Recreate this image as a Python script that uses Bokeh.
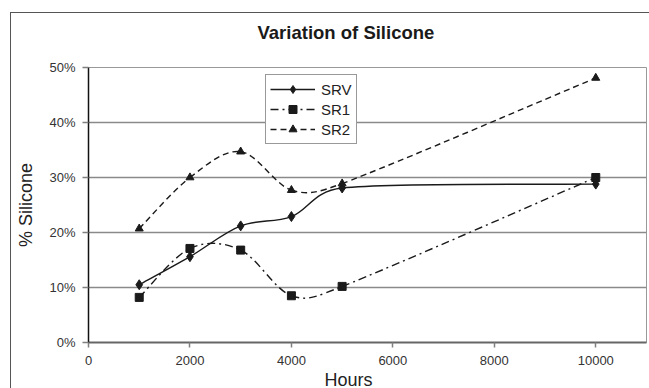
import numpy as np
from bokeh.plotting import figure
from bokeh.models import Legend, LegendItem, Title, FixedTicker, ColumnDataSource
from bokeh.embed import file_html
from bokeh.resources import INLINE

# ---- data ----
hours = [1000, 2000, 3000, 4000, 5000, 10000]
srv = [10.5, 15.6, 21.2, 22.9, 28.1, 28.8]
sr1 = [8.2, 17.1, 16.8, 8.5, 10.2, 30.0]
sr2 = [20.7, 30.0, 34.7, 27.7, 28.9, 48.1]
series_names = ["SRV", "SR1", "SR2"]
y_ticks = [0, 10, 20, 30, 40, 50]
y_tick_labels = ["0%", "10%", "20%", "30%", "40%", "50%"]
x_ticks = [0, 2000, 4000, 6000, 8000, 10000]

FONT = "Liberation Sans"
INK = "#1a1a1a"
X_RANGE = (0, 11000)
Y_RANGE = (0, 50)
W, H = 639, 376
ML, MR, MT, MB = 77, 4, 54, 45
PX_X = (W - ML - MR) / (X_RANGE[1] - X_RANGE[0])
PX_Y = (H - MT - MB) / (Y_RANGE[1] - Y_RANGE[0])


def bezier_source(xs, ys):
    """Excel-like smoothed segments: Catmull-Rom control points, limited to half a segment."""
    xs = np.asarray(xs, float)
    ys = np.asarray(ys, float)
    n = len(xs)
    d = dict(x0=[], y0=[], x1=[], y1=[], cx0=[], cy0=[], cx1=[], cy1=[])

    def limited(tx, ty, seg_x, seg_y):
        tl = np.hypot(tx * PX_X, ty * PX_Y)
        sl = np.hypot(seg_x * PX_X, seg_y * PX_Y) / 2
        if tl > sl and tl > 0:
            f = sl / tl
            return tx * f, ty * f
        return tx, ty

    for i in range(n - 1):
        i0 = max(i - 1, 0)
        i3 = min(i + 2, n - 1)
        sx, sy = xs[i + 1] - xs[i], ys[i + 1] - ys[i]
        t1x, t1y = limited((xs[i + 1] - xs[i0]) / 6, (ys[i + 1] - ys[i0]) / 6, sx, sy)
        t2x, t2y = limited((xs[i3] - xs[i]) / 6, (ys[i3] - ys[i]) / 6, sx, sy)
        d["x0"].append(xs[i]); d["y0"].append(ys[i])
        d["x1"].append(xs[i + 1]); d["y1"].append(ys[i + 1])
        d["cx0"].append(xs[i] + t1x); d["cy0"].append(ys[i] + t1y)
        d["cx1"].append(xs[i + 1] - t2x); d["cy1"].append(ys[i + 1] - t2y)
    return ColumnDataSource(d)


p = figure(width=W, height=H, x_range=X_RANGE, y_range=Y_RANGE,
           output_backend="svg", toolbar_location=None,
           min_border_left=ML, min_border_right=MR, min_border_top=MT, min_border_bottom=MB)
p.margin = (12, 0, 0, 10)
p.styles = {"border-left": "1.5px solid #555", "border-top": "1.5px solid #555"}

p.background_fill_color = "white"
p.border_fill_color = "white"
p.outline_line_color = "#999999"
p.outline_line_width = 1

# title (outermost in the top panel)
p.title.text = "Variation of Silicone"
p.title.align = "left"
p.title.vertical_align = "top"
p.title.offset = 169
p.title.standoff = 14
p.title.text_font = FONT
p.title.text_font_size = "18.5px"
p.title.text_font_style = "bold"
p.title.text_color = "#1a1a1a"
# thin spacer between title and frame
p.add_layout(Title(text=" ", text_font_size="2px", standoff=12), "above")

# grid
p.xgrid.visible = False
p.ygrid.ticker = FixedTicker(ticks=y_ticks)
p.ygrid.grid_line_color = "#8a8a8a"
p.ygrid.grid_line_width = 1.5

# axes
p.yaxis.ticker = FixedTicker(ticks=y_ticks)
p.yaxis.major_label_overrides = {t: l for t, l in zip(y_ticks, y_tick_labels)}
p.xaxis.ticker = FixedTicker(ticks=x_ticks)
for ax in (p.xaxis[0], p.yaxis[0]):
    ax.major_label_text_font = FONT
    ax.major_label_text_font_size = "13px"
    ax.major_label_text_color = "#333333"
    ax.minor_tick_line_color = None
    ax.major_tick_in = 0
    ax.major_tick_out = 6
    ax.major_tick_line_color = "#808080"
    ax.major_tick_line_width = 1.5
    ax.axis_label_text_font = FONT
    ax.axis_label_text_font_size = "18px"
    ax.axis_label_text_font_style = "normal"
    ax.axis_label_text_color = "#222222"
p.yaxis.axis_line_color = "#111111"
p.yaxis.axis_line_width = 1.5
p.yaxis.major_label_standoff = 7
p.yaxis.axis_label = "% Silicone"
p.yaxis.axis_label_standoff = 10
p.xaxis.axis_line_color = "#666666"
p.xaxis.axis_line_width = 2
p.xaxis.major_tick_out = 5
p.xaxis.major_label_standoff = 8

# x axis title, centred on the chart area like the reference
xlabel = Title(text="Hours", align="left", offset=236, standoff=0,
               text_font=FONT, text_font_size="18px", text_font_style="normal",
               text_color="#222222")
p.add_layout(xlabel, "below")

styles = [
    dict(dash="solid", marker="diamond", size=10),
    dict(dash="8 4 2 4", marker="square", size=8),
    dict(dash="6 4", marker="triangle", size=8),
]

items = []
for name, ys, st in zip(series_names, [srv, sr1, sr2], styles):
    src = bezier_source(hours, ys)
    bz = p.bezier(x0="x0", y0="y0", x1="x1", y1="y1", cx0="cx0", cy0="cy0",
                  cx1="cx1", cy1="cy1", source=src, line_color=INK,
                  line_width=1.4, line_dash=st["dash"])
    sc = p.scatter(hours, ys, marker=st["marker"], size=st["size"],
                   fill_color=INK, line_color=INK)
    items.append(LegendItem(label=name, renderers=[bz, sc]))

legend = Legend(items=items, location=(177, 198))
legend.label_text_font = FONT
legend.label_text_font_size = "15px"
legend.label_text_color = "#222222"
legend.border_line_color = "#333333"
legend.border_line_width = 1
legend.background_fill_color = "white"
legend.background_fill_alpha = 1
legend.glyph_width = 45
legend.glyph_height = 20
legend.label_height = 20
legend.spacing = 0
legend.padding = 4
legend.margin = 0
legend.label_standoff = 6
p.add_layout(legend, "center")

open("out.html", "w").write(file_html(p, INLINE))
